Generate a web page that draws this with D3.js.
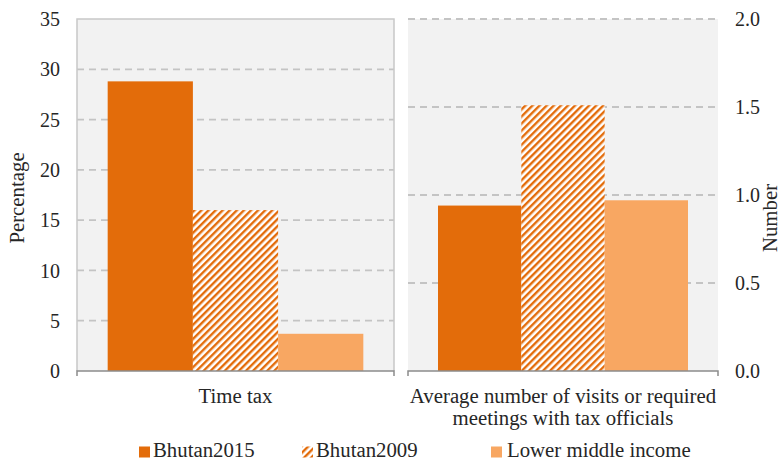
<!DOCTYPE html>
<html>
<head>
<meta charset="utf-8">
<script src="https://cdn.jsdelivr.net/npm/d3@7"></script>
<style>
  html, body { margin: 0; padding: 0; background: #fff; }
  svg { display: block; font-family: "Liberation Serif", "DejaVu Serif", serif; }
</style>
</head>
<body>
<svg id="chart" width="783" height="462"></svg>
<script>
// Series and categories
const series = ["Bhutan2015", "Bhutan2009", "Lower middle income"];
const categories = ["Time tax", "Average number of visits or required meetings with tax officials"];
const categoryLines = [["Time tax"], ["Average number of visits or required", "meetings with tax officials"]];

// Values per panel (order follows `series`)
const timeTaxValues = [28.8, 16.0, 3.7];      // percentage
const visitValues = [0.94, 1.51, 0.97];        // number

// Axis ticks
const leftTicks = [0, 5, 10, 15, 20, 25, 30, 35];
const rightTicks = [0, 0.5, 1.0, 1.5, 2.0];

const colors = { "Bhutan2015": "#E36C0A", "Bhutan2009": "url(#hatch)", "Lower middle income": "#F8A762" };
const textColor = "#262626";
const labelSize = 20.8, tickSize = 20;

const svg = d3.select("#chart");
const defs = svg.append("defs");
const pat = defs.append("pattern")
  .attr("id", "hatch")
  .attr("patternUnits", "userSpaceOnUse")
  .attr("width", 5).attr("height", 5)
  .attr("patternTransform", "rotate(45)");
pat.append("rect").attr("width", 5).attr("height", 5).attr("fill", "#fff");
pat.append("rect").attr("width", 2.4).attr("height", 5).attr("fill", "#E36C0A");

const plotTop = 19, plotBottom = 371;
const panels = [
  { x0: 77, x1: 394, values: timeTaxValues, domain: [0, 35], ticks: leftTicks, side: "left", border: true,
    fmt: d3.format("d"), label: categoryLines[0] },
  { x0: 408, x1: 718, values: visitValues, domain: [0, 2], ticks: rightTicks, side: "right", border: false,
    fmt: d3.format(".1f"), label: categoryLines[1] }
];

panels.forEach(p => {
  const g = svg.append("g");
  const y = d3.scaleLinear().domain(p.domain).range([plotBottom, plotTop]);
  const x = d3.scaleBand().domain(series).range([p.x0, p.x1]).paddingInner(0).paddingOuter(0.36);

  // panel background
  g.append("rect").attr("x", p.x0).attr("y", plotTop)
    .attr("width", p.x1 - p.x0).attr("height", plotBottom - plotTop).attr("fill", "#f2f2f2");

  // dashed gridlines
  g.selectAll("line.grid").data(p.ticks.filter(t => t > 0 && (!p.border || t < p.domain[1])))
    .join("line").attr("class", "grid")
    .attr("x1", p.x0).attr("x2", p.x1)
    .attr("y1", d => y(d)).attr("y2", d => y(d))
    .attr("stroke", "#c4c4c4").attr("stroke-width", 1.8)
    .attr("stroke-dasharray", "7,5");

  if (p.border) {
    g.append("path")
      .attr("d", `M${p.x0},${plotBottom} V${plotTop} H${p.x1} V${plotBottom}`)
      .attr("fill", "none").attr("stroke", "#c8c8c8").attr("stroke-width", 1.5);
  }

  // bars
  g.selectAll("rect.bar").data(series.map((s, i) => ({ s, v: p.values[i] })))
    .join("rect").attr("class", "bar")
    .attr("x", d => x(d.s)).attr("width", x.bandwidth())
    .attr("y", d => y(d.v)).attr("height", d => y(0) - y(d.v))
    .attr("fill", d => colors[d.s]);

  // category axis line with end ticks
  g.append("path")
    .attr("d", `M${p.x0},${plotBottom + 5} V${plotBottom} H${p.x1} V${plotBottom + 5}`)
    .attr("fill", "none").attr("stroke", "#8c8c8c").attr("stroke-width", 1.5);

  // value axis labels
  const axis = (p.side === "left" ? d3.axisLeft(y) : d3.axisRight(y))
    .tickValues(p.ticks).tickFormat(p.fmt).tickSize(0).tickPadding(0);
  const ag = g.append("g")
    .attr("transform", `translate(${p.side === "left" ? 60 : 735},0)`)
    .call(axis);
  ag.select(".domain").remove();
  ag.selectAll("text").attr("font-size", tickSize).attr("fill", textColor)
    .attr("font-family", "Liberation Serif, serif").attr("dy", "0.33em");

  // category label
  const cx = (p.x0 + p.x1) / 2;
  g.append("text").attr("text-anchor", "middle").attr("font-size", labelSize).attr("fill", textColor)
    .selectAll("tspan").data(p.label).join("tspan")
    .attr("x", cx).attr("y", (d, i) => 403 + i * 22).text(d => d);
});

// axis titles
svg.append("text").attr("transform", "translate(24,198) rotate(-90)")
  .attr("text-anchor", "middle").attr("font-size", labelSize).attr("fill", textColor).text("Percentage");
svg.append("text").attr("transform", "translate(777,218) rotate(-90)")
  .attr("text-anchor", "middle").attr("font-size", labelSize).attr("fill", textColor).text("Number");

// legend
const legendX = [139, 302, 491];
const lg = svg.append("g").selectAll("g").data(series).join("g")
  .attr("transform", (d, i) => `translate(${legendX[i]},451)`);
lg.append("rect").attr("x", 0).attr("y", -4.5).attr("width", 11).attr("height", 11)
  .attr("fill", d => colors[d]);
lg.append("text").attr("x", (d, i) => i === 2 ? 16 : 14).attr("y", 0).attr("dy", "0.3em")
  .attr("font-size", labelSize).attr("fill", textColor).text(d => d);
</script>
</body>
</html>
